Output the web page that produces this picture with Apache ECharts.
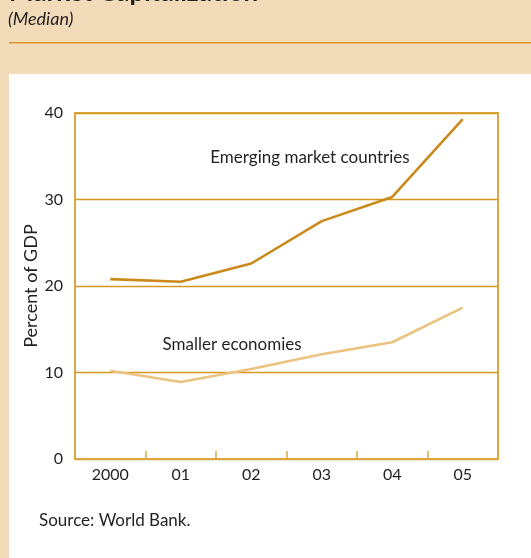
<!DOCTYPE html>
<html><head><meta charset="utf-8">
<script src="https://cdn.jsdelivr.net/npm/echarts@6/dist/echarts.min.js"></script>
<style>html,body{margin:0;padding:0;background:#F2DBB8;}#c{width:531px;height:558px;}</style>
</head><body><div id="c"></div>
<script>
const categories = ['2000', '01', '02', '03', '04', '05'];
const emerging = [20.8, 20.5, 22.6, 27.5, 30.3, 39.3];
const smaller = [10.2, 8.9, 10.4, 12.1, 13.5, 17.5];
const yTicks = [0, 10, 20, 30, 40];

const FONT = 'Lato, "Open Sans", sans-serif';
const axisGold = '#DBA645';
const gridGold = '#D5981F';
const chart = echarts.init(document.getElementById('c'), null, {renderer: 'canvas'});
chart.setOption({
  backgroundColor: '#F2DBB8',
  animation: false,
  graphic: [
    {type: 'rect', shape: {x: 9, y: 74, width: 522, height: 484}, style: {fill: '#FFFFFF'}, z: -10},
    {type: 'rect', shape: {x: 9, y: 42, width: 522, height: 1.5}, style: {fill: '#D9962A'}},
    {type: 'text', x: 9, y: 6, style: {text: 'Market Capitalization', font: 'bold 26px ' + FONT, fill: '#231F20', textVerticalAlign: 'bottom'}},
    {type: 'text', x: 8, y: 19, style: {text: '(Median)', font: 'italic 18px ' + FONT, fill: '#231F20', textVerticalAlign: 'middle'}},
    {type: 'text', x: 39, y: 521, style: {text: 'Source: World Bank.', font: '17px ' + FONT, fill: '#231F20', textVerticalAlign: 'middle'}},
    {type: 'text', x: 310, y: 158, style: {text: 'Emerging market countries', font: '17px ' + FONT, fill: '#231F20', textAlign: 'center', textVerticalAlign: 'middle'}},
    {type: 'text', x: 232, y: 345, style: {text: 'Smaller economies', font: '17px ' + FONT, fill: '#231F20', textAlign: 'center', textVerticalAlign: 'middle'}}
  ],
  grid: {left: 75, right: 33, top: 113, bottom: 99, show: true, borderColor: axisGold, borderWidth: 2, backgroundColor: 'transparent'},
  xAxis: {
    type: 'category', data: categories, boundaryGap: true,
    axisLine: {lineStyle: {color: axisGold, width: 2}},
    axisTick: {show: true, inside: true, length: 8, lineStyle: {color: axisGold, width: 1.5}},
    axisLabel: {color: '#231F20', fontSize: 16, fontFamily: FONT, margin: 8},
    splitLine: {show: false}
  },
  yAxis: {
    type: 'value', min: yTicks[0], max: yTicks[yTicks.length - 1], interval: 10,
    name: 'Percent of GDP', nameLocation: 'middle', nameGap: 35, nameRotate: 90, nameMoveOverlap: false,
    nameTextStyle: {color: '#231F20', fontSize: 18, fontFamily: FONT},
    axisLine: {show: true, lineStyle: {color: axisGold, width: 2}},
    axisTick: {show: false},
    axisLabel: {color: '#231F20', fontSize: 16, fontFamily: FONT, margin: 12},
    splitLine: {lineStyle: {color: gridGold, width: 1.4}}
  },
  series: [
    {type: 'line', data: emerging, symbol: 'none', lineStyle: {color: '#C98A1B', width: 2.6}, z: 3},
    {type: 'line', data: smaller, symbol: 'none', lineStyle: {color: '#EBC27F', width: 2.6}, z: 3}
  ]
});
</script></body></html>
